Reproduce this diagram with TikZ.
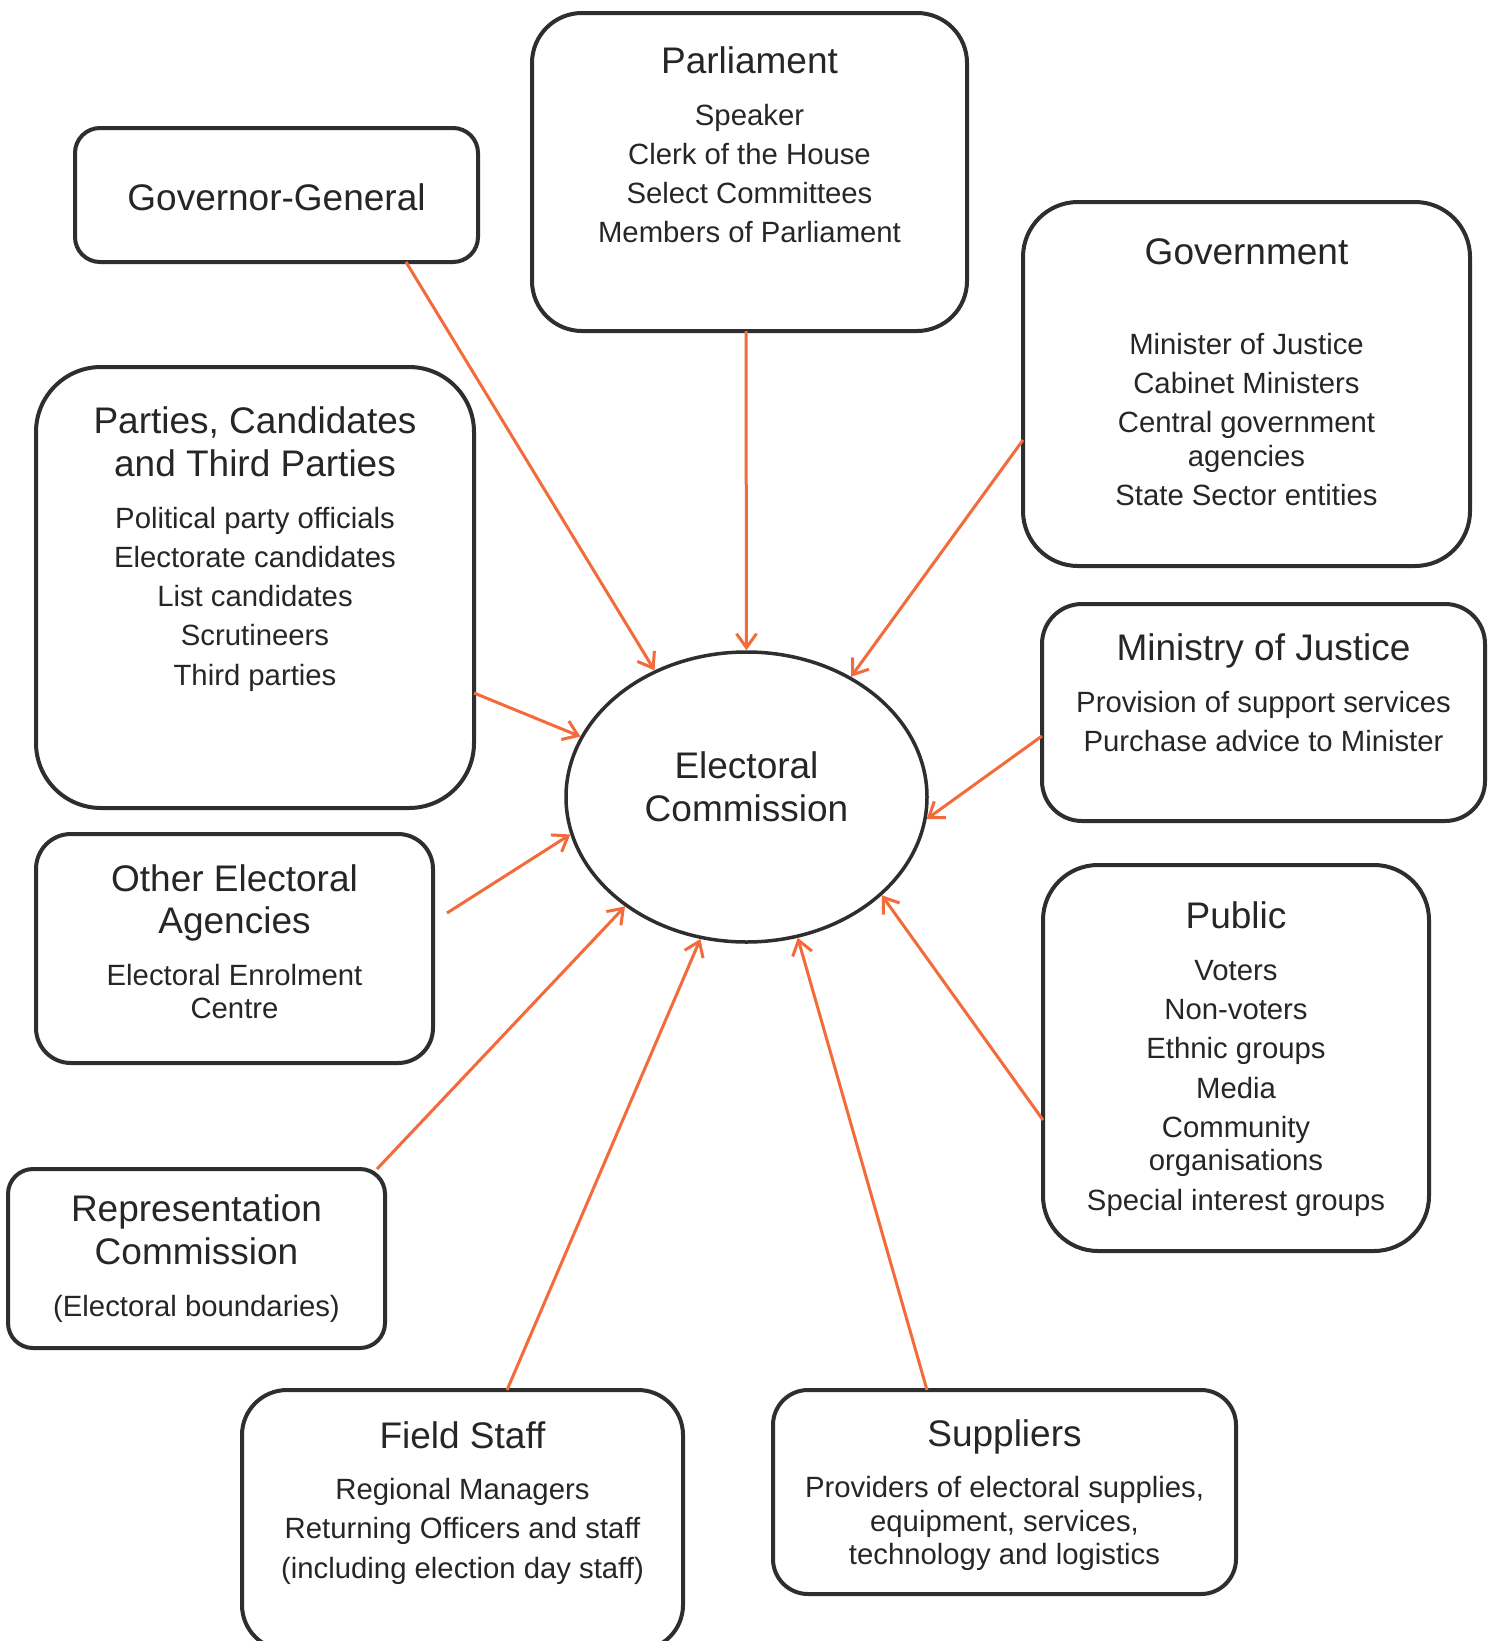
\documentclass[tikz,border=0pt]{standalone}
\usepackage{fontspec}
\setmainfont{Liberation Sans}
\usetikzlibrary{arrows.meta,calc,positioning,shapes.geometric}
\definecolor{BoxGrey}{HTML}{2E2E2E}
\definecolor{InkGrey}{HTML}{262626}
\definecolor{LinkOrange}{HTML}{F36B3B}
\newcommand{\hd}[1]{{\fontsize{37pt}{43pt}\selectfont #1}}
\newcommand{\bodyfont}{\fontsize{29.3pt}{33.5pt}\selectfont\setlength{\lineskiplimit}{-1000pt}}

\begin{document}
\begin{tikzpicture}[x=1pt, y=-1pt,
  box/.style={draw=BoxGrey, line width=4pt, rounded corners=#1, outer sep=0pt, inner sep=0pt},
  words/.style={align=center, inner sep=0pt, text=InkGrey, font=\bodyfont},
  link/.style={draw=LinkOrange, line width=3pt, -{Straight Barb[length=14pt,width=20pt]}}]

 \path[use as bounding box, fill=white] (0,0) rectangle (1496,1641);

 % commission in the middle
 \node (ec) [ellipse, draw=BoxGrey, line width=3.5pt, minimum width=361pt, minimum height=290pt, inner sep=0pt] at (746.5,797) {};
 \node (ectext) [words] at ($(ec.center)+(0,-10)$) {\hd{Electoral}\\[9.4pt]\hd{Commission}};

 % boxes round it
 \node (parl) [box=50pt, minimum width=435pt, minimum height=318pt] at (749.5,172) {};
 \node (parltext) [words, below=33.5pt of parl.north] {\hd{Parliament}\\[18pt]
   Speaker\\[5.8pt] Clerk of the House\\[5.8pt] Select Committees\\[5.8pt] Members of Parliament};

 \node (gg) [box=25pt, minimum width=403pt, minimum height=134pt] at (276.5,195) {};
 \node (ggtext) [words] at ($(gg.center)+(0,2)$) {\hd{Governor-General}};

 \node (govt) [box=55pt, minimum width=447pt, minimum height=364pt] at (1246.5,384) {};
 \node (govttext) [words, below=36pt of govt.north] {\hd{Government}\\[56.8pt]
   Minister of Justice\\[5.8pt] Cabinet Ministers\\[5.8pt] Central government\\ agencies\\[5.8pt] State Sector entities};

 \node (parties) [box=65pt, minimum width=438pt, minimum height=441pt] at (255,587.5) {};
 \node (partiestext) [words, below=39.6pt of parties.north] {\hd{Parties, Candidates}\\[9.4pt]\hd{and Third Parties}\\[18pt]
   Political party officials\\[5.8pt] Electorate candidates\\[5.8pt] List candidates\\[5.8pt] Scrutineers\\[5.8pt] Third parties};

 \node (moj) [box=40pt, minimum width=443pt, minimum height=217pt] at (1263.5,712.5) {};
 \node (mojtext) [words, below=29.7pt of moj.north] {\hd{Ministry of Justice}\\[18pt]
   Provision of support services\\[5.8pt] Purchase advice to Minister};

 \node (others) [box=35pt, minimum width=397pt, minimum height=229pt] at (234.5,948.5) {};
 \node (otherstext) [words, below=30pt of others.north] {\hd{Other Electoral}\\[9.4pt]\hd{Agencies}\\[18pt]
   Electoral Enrolment\\ Centre};

 \node (public) [box=55pt, minimum width=386pt, minimum height=386pt] at (1236,1058) {};
 \node (publictext) [words, below=36.7pt of public.north] {\hd{Public}\\[18pt]
   Voters\\[5.8pt] Non-voters\\[5.8pt] Ethnic groups\\[5.8pt] Media\\[5.8pt] Community\\ organisations\\[5.8pt] Special interest groups};

 \node (repcomm) [box=25pt, minimum width=377pt, minimum height=179pt] at (196.5,1258.5) {};
 \node (repcommtext) [words, below=25.9pt of repcomm.north] {\hd{Representation}\\[9.4pt]\hd{Commission}\\[18pt]
   (Electoral boundaries)};

 \node (field) [box=45pt, minimum width=441pt, minimum height=260pt] at (462.5,1520) {};
 \node (fieldtext) [words, below=31pt of field.north] {\hd{Field Staff}\\[18pt]
   Regional Managers\\[5.8pt] Returning Officers and staff\\[5.8pt] (including election day staff)};

 \node (suppliers) [box=35pt, minimum width=463pt, minimum height=204pt] at (1004.5,1492) {};
 \node (supplierstext) [words, below=29pt of suppliers.north] {\hd{Suppliers}\\[18pt]
   Providers of electoral supplies,\\ equipment, services,\\ technology and logistics};

 % links into the commission
 \draw[link] ($(gg.south)+(129.5,0)$) -- (ec.126);
 \draw[link] ($(parl.south)+(-3.5,0)$) -- (ec.90);
 \draw[link] ($(govt.west)+(0,56)$) -- (ec.49);
 \draw[link] ($(parties.east)+(0,105.5)$) -- (ec.160);
 \draw[link] ($(moj.west)+(0,23.5)$) -- (ec.-7);
 \draw[link] ($(others.east)+(14,-35.5)$) -- (ec.192);
 \draw[link] ($(repcomm.north east)+(-8,0)$) -- (ec.222.5);
 \draw[link] ($(field.north)+(44.5,0)$) -- (ec.252);
 \draw[link] ($(suppliers.north)+(-77.5,0)$) -- (ec.290.6);
 \draw[link] ($(public.west)+(0,62)$) -- (ec.324);

\end{tikzpicture}
\end{document}
